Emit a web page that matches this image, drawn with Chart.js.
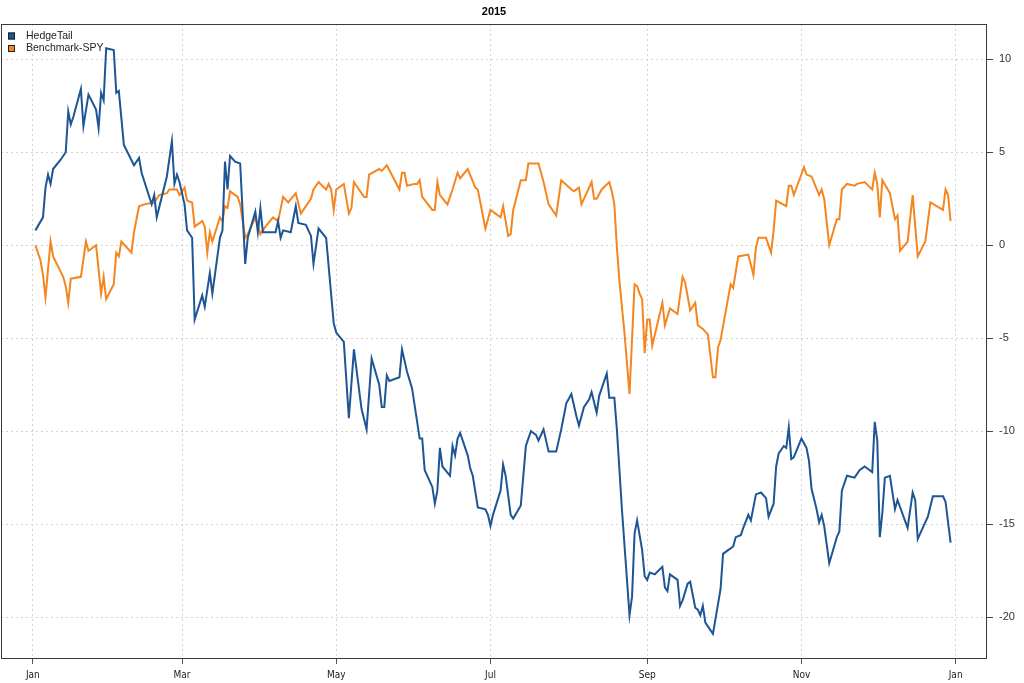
<!DOCTYPE html>
<html>
<head>
<meta charset="utf-8">
<script src="https://cdn.jsdelivr.net/npm/chart.js@4.4.1/dist/chart.umd.min.js"></script>
<style>
  html, body { margin: 0; padding: 0; background: #fff; }
</style>
</head>
<body>
<canvas id="chart" width="1024" height="683"></canvas>
<script>
// day of year 2015 (0 = Jan 1) and cumulative return in %
const hedgeDays = [1, 4, 5, 6, 7, 8, 11, 13, 14, 15, 16, 19, 20, 22, 25, 26, 27, 28, 29, 32,
  33, 34, 36, 40, 42, 43, 47, 48, 49, 53, 55, 56, 57, 58, 60, 61, 63, 64, 67, 68,
  70, 71, 74, 75, 76, 77, 78, 80, 82, 84, 85, 88, 89, 90, 91, 96, 97, 98, 99, 102,
  104, 105, 108, 110, 111, 113, 116, 119, 120, 123, 125, 127, 130, 132, 134, 137, 138, 139, 140, 141,
  145, 146, 148, 150, 153, 154, 155, 158, 159, 160, 161, 162, 165, 166, 167, 168, 169, 172, 173, 174,
  176, 179, 180, 181, 182, 185, 186, 187, 189, 190, 193, 195, 197, 199, 200, 202, 204, 207, 209, 211,
  213, 215, 216, 218, 220, 221, 223, 224, 227, 228, 230, 231, 233, 236, 237, 238, 239, 241, 242, 243,
  244, 246, 249, 250, 251, 252, 255, 256, 257, 259, 260, 262, 263, 264, 265, 266, 269, 271, 272, 273,
  275, 277, 278, 280, 281, 283, 284, 286, 288, 290, 291, 293, 294, 295, 296, 297, 298, 299, 300, 301,
  304, 306, 307, 308, 310, 311, 312, 313, 315, 318, 319, 320, 322, 325, 327, 329, 332, 333, 334, 335,
  336, 337, 339, 341, 342, 346, 348, 349, 350, 354, 356, 360, 361, 363];
const hedgeVals = [0.8, 1.5, 3.1, 3.8, 3.3, 4.1, 4.6, 5.0, 7.2, 6.5, 6.9, 8.4, 6.4, 8.1, 7.3, 6.3, 8.2, 7.8, 10.6, 10.5,
  8.2, 8.3, 5.4, 4.3, 4.7, 3.9, 2.2, 2.7, 1.5, 3.7, 5.6, 3.3, 3.8, 3.4, 2.2, 0.8, 0.4, -4.0, -2.7, -3.3,
  -1.5, -2.6, 0.4, 0.8, 4.5, 3.0, 4.8, 4.5, 4.4, -1.0, 0.4, 1.8, 0.7, 2.0, 0.7, 0.7, 1.3, 0.4, 0.8, 0.7,
  2.1, 1.2, 1.1, 0.5, -1.0, 0.9, 0.4, -4.2, -4.7, -5.2, -9.3, -5.6, -8.8, -9.9, -6.1, -7.5, -8.7, -8.7, -7.0, -7.3,
  -7.1, -5.6, -6.8, -7.7, -10.4, -10.4, -12.1, -13.0, -13.9, -13.2, -10.9, -11.9, -12.4, -10.8, -11.3, -10.4, -10.1, -11.3, -12.0, -12.4,
  -14.1, -14.2, -14.5, -15.1, -14.5, -13.2, -11.8, -12.4, -14.5, -14.7, -14.0, -10.8, -10.0, -10.2, -10.5, -9.9, -11.1, -11.1, -9.9, -8.5,
  -8.0, -9.2, -9.7, -8.7, -8.3, -7.9, -9.0, -8.1, -6.9, -8.2, -8.2, -9.9, -14.2, -19.9, -18.9, -15.5, -14.8, -16.4, -17.8, -18.0,
  -17.6, -17.7, -17.3, -18.4, -18.6, -17.7, -18.0, -19.4, -19.1, -18.2, -18.1, -19.5, -19.6, -19.9, -19.4, -20.3, -20.9, -19.3, -18.5, -16.6,
  -16.4, -16.2, -15.7, -15.6, -15.2, -14.5, -14.8, -13.4, -13.3, -13.6, -14.6, -13.9, -11.9, -11.2, -11.0, -10.8, -10.9, -9.8, -11.5, -11.4,
  -10.4, -10.9, -11.6, -13.1, -14.2, -14.9, -14.5, -15.1, -17.1, -15.7, -15.4, -13.2, -12.4, -12.5, -12.1, -11.9, -12.2, -9.5, -10.5, -15.7,
  -14.4, -12.5, -12.4, -14.2, -13.7, -15.2, -13.3, -13.7, -15.8, -14.6, -13.5, -13.5, -13.8, -16.0];

const spyDays = [1, 3, 4, 5, 7, 8, 12, 13, 14, 15, 19, 21, 22, 25, 27, 28, 29, 32, 33, 34,
  35, 39, 40, 42, 44, 48, 50, 53, 54, 57, 58, 60, 61, 63, 64, 67, 68, 69, 70, 71,
  74, 75, 76, 77, 78, 81, 82, 84, 85, 88, 90, 92, 95, 97, 99, 101, 104, 106, 110, 111,
  113, 116, 117, 118, 119, 120, 123, 125, 126, 127, 129, 131, 132, 133, 137, 138, 140, 145, 146, 147,
  148, 151, 152, 153, 154, 158, 159, 160, 161, 164, 166, 168, 169, 172, 175, 176, 179, 181, 185, 186,
  188, 189, 190, 193, 195, 196, 200, 201, 202, 204, 207, 209, 213, 214, 216, 217, 221, 222, 223, 225,
  228, 229, 230, 231, 232, 234, 236, 238, 239, 240, 241, 242, 243, 244, 245, 249, 250, 252, 255, 257,
  258, 260, 262, 263, 265, 267, 269, 270, 271, 272, 274, 276, 277, 279, 283, 285, 286, 287, 290, 292,
  293, 294, 298, 299, 300, 301, 305, 306, 308, 311, 312, 313, 315, 318, 319, 320, 322, 325, 326, 329,
  332, 333, 334, 335, 336, 339, 341, 342, 343, 346, 348, 350, 353, 355, 360, 361, 362, 363];
const spyVals = [0.0, -0.8, -1.6, -2.8, 0.2, -0.6, -1.7, -2.2, -3.1, -1.8, -1.7, 0.2, -0.3, 0.0, -2.6, -1.7, -2.9, -2.1, -0.4, -0.6,
  0.2, -0.4, 0.7, 2.1, 2.2, 2.3, 2.7, 2.8, 3.0, 3.0, 2.7, 3.1, 2.4, 2.3, 1.0, 1.3, 1.0, -0.4, 0.7, 0.2,
  1.5, 1.3, 2.1, 2.0, 2.9, 2.6, 2.2, 0.4, 0.6, 1.5, 0.6, 1.0, 1.5, 1.3, 2.6, 2.3, 2.8, 1.7, 2.5, 3.0,
  3.4, 3.0, 3.3, 3.0, 1.9, 3.0, 3.3, 1.7, 2.0, 3.4, 3.0, 2.6, 2.6, 3.8, 4.1, 4.0, 4.3, 3.0, 3.9, 3.9,
  3.2, 3.3, 3.3, 3.5, 2.6, 1.9, 1.9, 3.4, 2.7, 2.2, 3.0, 3.9, 3.6, 4.1, 3.1, 3.0, 0.9, 1.9, 1.5, 2.1,
  0.5, 0.6, 1.9, 3.5, 3.5, 4.4, 4.4, 3.9, 3.4, 2.2, 1.6, 3.5, 3.0, 2.9, 3.1, 2.2, 3.4, 2.5, 2.5, 3.0,
  3.4, 2.9, 2.2, -0.1, -1.9, -4.7, -8.0, -2.1, -2.2, -2.6, -2.9, -5.8, -4.0, -4.0, -5.4, -3.1, -4.3, -3.4, -3.7, -1.7,
  -2.0, -3.5, -3.1, -4.3, -4.5, -4.8, -7.1, -7.1, -5.5, -5.1, -3.6, -2.1, -2.3, -0.6, -0.5, -1.6, -0.1, 0.4, 0.4, -0.4,
  0.8, 2.4, 2.1, 3.2, 3.2, 2.7, 4.2, 3.8, 3.7, 2.7, 3.0, 2.5, 0.0, 1.4, 1.4, 3.0, 3.3, 3.2, 3.3, 3.4,
  3.0, 3.9, 3.3, 1.5, 3.5, 2.8, 1.4, 1.6, -0.3, 0.2, 2.7, -0.6, 0.2, 2.3, 1.9, 3.0, 2.7, 1.3];

const monthTickDays = [0, 59, 120, 181, 243, 304, 365];
const monthTickLabels = ['Jan', 'Mar', 'May', 'Jul', 'Sep', 'Nov', 'Jan'];
const valueTicks = [-20, -15, -10, -5, 0, 5, 10];

const blue = '#1d5595';
const orange = '#f5861f';

const framePlugin = {
  id: 'frame',
  afterDraw(chart) {
    const { ctx, chartArea } = chart;
    ctx.save();
    ctx.strokeStyle = '#3a3a3a';
    ctx.lineWidth = 1;
    ctx.strokeRect(chartArea.left + 0.5, chartArea.top + 0.5,
      chartArea.right - chartArea.left - 1, chartArea.bottom - chartArea.top);

    ctx.fillStyle = '#000';
    ctx.font = 'bold 11px "Liberation Sans", Arial, sans-serif';
    ctx.textAlign = 'center';
    ctx.textBaseline = 'middle';
    ctx.fillText('2015', (chartArea.left + chartArea.right) / 2, 12);

    ctx.font = '10.5px "Liberation Sans", Arial, sans-serif';
    ctx.textAlign = 'left';
    chart.data.datasets.forEach((ds, i) => {
      const cy = 36 + i * 12.5;
      ctx.fillStyle = ds.borderColor;
      ctx.fillRect(8, cy - 3.5, 7, 7);
      ctx.strokeStyle = '#222';
      ctx.strokeRect(8.5, cy - 3, 6, 6);
      ctx.fillStyle = '#222';
      ctx.fillText(ds.label, 26, cy);
    });
    ctx.restore();
  },
};

new Chart(document.getElementById('chart'), {
  type: 'line',
  data: {
    datasets: [
      {
        label: 'HedgeTail',
        data: hedgeDays.map((d, i) => ({ x: d, y: hedgeVals[i] })),
        borderColor: blue,
        backgroundColor: blue,
        borderWidth: 2,
        pointRadius: 0,
        tension: 0,
      },
      {
        label: 'Benchmark-SPY',
        data: spyDays.map((d, i) => ({ x: d, y: spyVals[i] })),
        borderColor: orange,
        backgroundColor: orange,
        borderWidth: 2,
        pointRadius: 0,
        tension: 0,
      },
    ],
  },
  options: {
    responsive: false,
    animation: false,
    layout: { padding: { top: 24, left: 1, right: 0, bottom: 0 } },
    plugins: {
      legend: { display: false },
      title: { display: false },
      tooltip: { enabled: false },
    },
    scales: {
      x: {
        type: 'linear',
        min: -12.6,
        max: 377.4,
        afterBuildTicks: (scale) => {
          scale.ticks = monthTickDays.map((v) => ({ value: v }));
        },
        afterFit: (scale) => {
          scale.height = 25;
        },
        ticks: {
          autoSkip: false,
          maxRotation: 0,
          padding: 5,
          color: '#222',
          font: { family: '"Liberation Sans Narrow", "Arial Narrow", "DejaVu Sans Condensed", sans-serif', size: 10 },
          callback: (v, i) => monthTickLabels[i],
        },
        grid: { color: '#d2d2d2', tickColor: '#555', tickLength: 6, tickBorderDash: [] },
        border: { display: false, dash: [2, 3] },
      },
      y: {
        position: 'right',
        min: -22.2,
        max: 11.9,
        afterBuildTicks: (scale) => {
          scale.ticks = valueTicks.map((v) => ({ value: v }));
        },
        afterFit: (scale) => {
          scale.width = 37;
        },
        ticks: {
          padding: 6,
          color: '#333',
          font: { family: '"Liberation Sans", Arial, sans-serif', size: 11 },
        },
        grid: { color: '#d2d2d2', tickColor: '#444', tickLength: 6, tickBorderDash: [] },
        border: { display: false, dash: [2, 3] },
      },
    },
  },
  plugins: [framePlugin],
});
</script>
</body>
</html>
